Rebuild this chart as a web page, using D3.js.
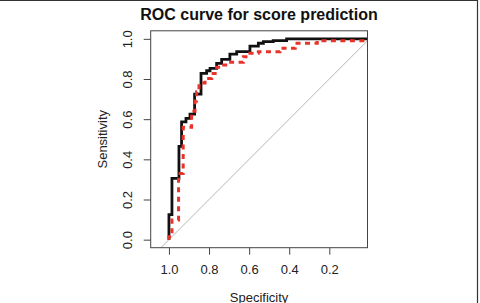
<!DOCTYPE html>
<html>
<head>
  <meta charset="UTF-8">
  <title>ROC curve for score prediction</title>
  <style>
    body { margin: 0; background: #fff; }
    svg { display: block; font-family: "Liberation Sans", Arial, sans-serif; }
  </style>
</head>
<body>
  <div id="chart"></div>
  <script src="https://d3js.org/d3.v7.min.js"></script>
  <script>
    // staircase vertices [specificity, sensitivity]
    const blackSpec = [1.000, 1.000, 0.985, 0.985, 0.950, 0.950, 0.937, 0.937, 0.915, 0.915, 0.895, 0.895, 0.872, 0.872, 0.840, 0.840, 0.812, 0.812, 0.795, 0.795, 0.762, 0.762, 0.737, 0.737, 0.696, 0.696, 0.662, 0.662, 0.596, 0.596, 0.554, 0.554, 0.529, 0.529, 0.480, 0.480, 0.413, 0.413, 0.000];
    const blackSens = [0.000, 0.125, 0.125, 0.305, 0.305, 0.465, 0.465, 0.587, 0.587, 0.604, 0.604, 0.625, 0.625, 0.725, 0.725, 0.828, 0.828, 0.841, 0.841, 0.853, 0.853, 0.878, 0.878, 0.898, 0.898, 0.924, 0.924, 0.936, 0.936, 0.964, 0.964, 0.978, 0.978, 0.986, 0.986, 0.991, 0.991, 1.000, 1.000];
    const redSpec = [1.000, 1.000, 0.985, 0.985, 0.952, 0.952, 0.929, 0.929, 0.887, 0.887, 0.870, 0.870, 0.862, 0.862, 0.850, 0.850, 0.820, 0.820, 0.787, 0.787, 0.762, 0.762, 0.737, 0.737, 0.704, 0.704, 0.629, 0.629, 0.596, 0.596, 0.554, 0.554, 0.446, 0.446, 0.370, 0.370, 0.260, 0.260, 0.000, 0.000];
    const redSens = [0.000, 0.015, 0.015, 0.098, 0.098, 0.330, 0.330, 0.560, 0.560, 0.640, 0.640, 0.690, 0.690, 0.737, 0.737, 0.780, 0.780, 0.803, 0.803, 0.828, 0.828, 0.858, 0.858, 0.870, 0.870, 0.883, 0.883, 0.911, 0.911, 0.928, 0.928, 0.936, 0.936, 0.953, 0.953, 0.978, 0.978, 0.991, 0.991, 1.000];
    const xTicks = [1.0, 0.8, 0.6, 0.4, 0.2];
    const yTicks = [0.0, 0.2, 0.4, 0.6, 0.8, 1.0];

    const width = 480, height = 303;
    const box = { left: 150.7, right: 367.5, top: 30.8, bottom: 247.7 };

    const x = d3.scaleLinear().domain([1.091, 0.0095]).range([box.left, box.right]);
    const y = d3.scaleLinear().domain([-0.04, 1.04]).range([box.bottom, box.top]);

    const svg = d3.select("#chart").append("svg")
      .attr("width", width)
      .attr("height", height);

    // figure frame
    svg.append("path")
      .attr("d", `M0,0.5 H477.5 V${height}`)
      .attr("fill", "none")
      .attr("stroke", "#333")
      .attr("stroke-width", 1.2);

    svg.append("defs").append("clipPath").attr("id", "clip")
      .append("rect")
      .attr("x", box.left).attr("y", box.top)
      .attr("width", box.right - box.left).attr("height", box.bottom - box.top);

    const plot = svg.append("g").attr("clip-path", "url(#clip)");

    // chance diagonal
    plot.append("line")
      .attr("x1", x(1.2)).attr("y1", y(-0.2))
      .attr("x2", x(-0.1)).attr("y2", y(1.1))
      .attr("stroke", "#b5b5b5")
      .attr("stroke-width", 1);

    const line = d3.line().x(d => x(d[0])).y(d => y(d[1]));

    plot.append("path")
      .attr("d", line(d3.zip(blackSpec, blackSens)))
      .attr("fill", "none")
      .attr("stroke", "#111")
      .attr("stroke-width", 2.8);

    plot.append("path")
      .attr("d", line(d3.zip(redSpec, redSens)))
      .attr("fill", "none")
      .attr("stroke", "#e8332a")
      .attr("stroke-width", 3)
      .attr("stroke-dasharray", "5,4.5");

    // box
    svg.append("rect")
      .attr("x", box.left).attr("y", box.top)
      .attr("width", box.right - box.left).attr("height", box.bottom - box.top)
      .attr("fill", "none")
      .attr("stroke", "#444")
      .attr("stroke-width", 1);

    // x axis
    const xAxis = svg.append("g")
      .attr("transform", `translate(0,${box.bottom})`)
      .call(d3.axisBottom(x).tickValues(xTicks).tickFormat(d3.format(".1f")).tickSize(7).tickPadding(10));
    xAxis.select(".domain").remove();
    xAxis.selectAll("line").attr("stroke", "#444");
    xAxis.selectAll("text").attr("font-size", 13).attr("fill", "#222")
      .attr("font-family", "'Liberation Sans', Arial, sans-serif");

    // y axis
    const yAxis = svg.append("g")
      .attr("transform", `translate(${box.left},0)`)
      .call(d3.axisLeft(y).tickValues(yTicks).tickFormat(d3.format(".1f")).tickSize(7));
    yAxis.select(".domain").remove();
    yAxis.selectAll("line").attr("stroke", "#444");
    yAxis.selectAll("text")
      .attr("font-size", 13).attr("fill", "#222")
      .attr("font-family", "'Liberation Sans', Arial, sans-serif")
      .attr("x", null).attr("dy", null)
      .attr("text-anchor", "middle")
      .attr("transform", "translate(-18.5,0) rotate(-90)");

    // title and axis labels
    svg.append("text")
      .attr("x", 259).attr("y", 20)
      .attr("text-anchor", "middle")
      .attr("font-size", 16).attr("font-weight", "bold").attr("fill", "#111")
      .text("ROC curve for score prediction");

    svg.append("text")
      .attr("x", (box.left + box.right) / 2).attr("y", 301.5)
      .attr("text-anchor", "middle")
      .attr("font-size", 13).attr("fill", "#222")
      .text("Specificity");

    svg.append("text")
      .attr("transform", `translate(107,${(box.top + box.bottom) / 2}) rotate(-90)`)
      .attr("text-anchor", "middle")
      .attr("font-size", 13).attr("fill", "#222")
      .text("Sensitivity");
  </script>
</body>
</html>
